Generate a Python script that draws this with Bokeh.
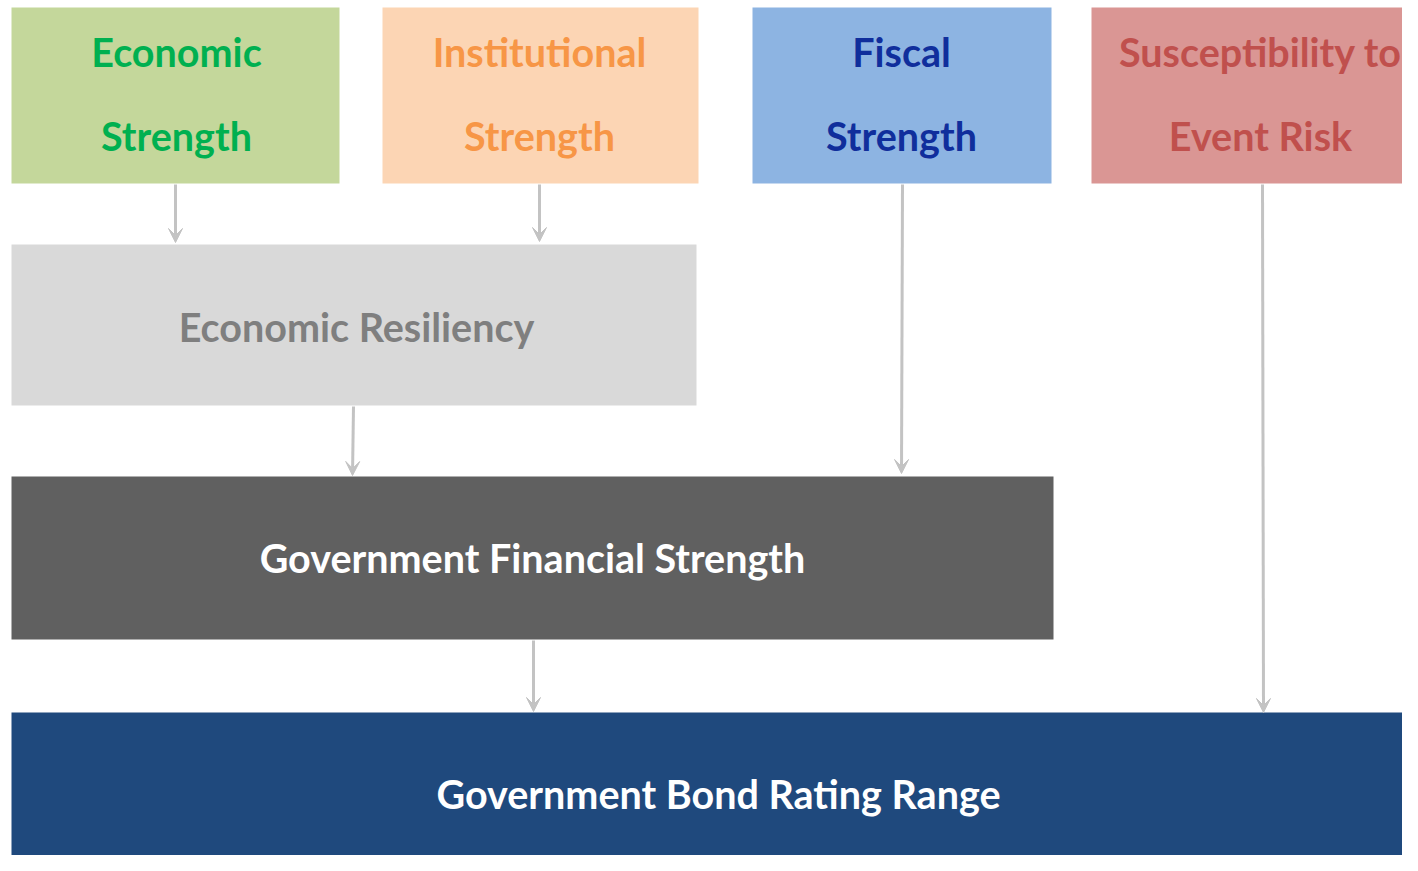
from bokeh.plotting import figure
from bokeh.models import Range1d, Arrow, VeeHead, ColumnDataSource
from bokeh.core.properties import value
from bokeh.embed import file_html
from bokeh.resources import INLINE

# ---- content ----
factor_labels = ["Economic\nStrength", "Institutional\nStrength", "Fiscal\nStrength",
                 "Susceptibility to\nEvent Risk"]
resiliency_label = ["Economic Resiliency"]
gfs_label = ["Government Financial Strength"]
rating_label = ["Government Bond Rating Range"]

# ---- layout (pixels) ----
W, H = 1402, 855

boxes = dict(
    left=[11, 382, 752, 1091, 11, 11, 11],
    right=[339, 698, 1051, 1420, 696, 1053, 1420],
    top=[7, 7, 7, 7, 244, 476, 712],
    bottom=[183, 183, 183, 183, 405, 639, 875],
    fill=["#C4D79B", "#FCD5B4", "#8DB4E2", "#DA9694", "#D9D9D9", "#606060", "#1F497D"],
)

p = figure(width=W, height=H, output_backend="svg", toolbar_location=None,
           x_range=Range1d(0, W), y_range=Range1d(H, 0),
           min_border=0, outline_line_color=None, background_fill_color="white")
p.axis.visible = False
p.grid.visible = False

p.quad(left="left", right="right", top="top", bottom="bottom", fill_color="fill",
       line_color=None, source=ColumnDataSource(boxes))

# arrows
arrow_col = "#C3C3C3"
arrows = [
    (175, 184, 175, 242),
    (539, 184, 539, 241),
    (902, 184, 901, 473),
    (1262, 184, 1263, 712),
    (353, 406, 352, 475),
    (533, 640, 533, 711),
]
for x0, y0, x1, y1 in arrows:
    p.add_layout(Arrow(x_start=x0, y_start=y0, x_end=x1, y_end=y1,
                       line_color=arrow_col, line_width=3,
                       end=VeeHead(size=14, line_color=arrow_col, fill_color=arrow_col,
                                   line_width=1)))

font = value("Lato")
fs = "39.5px"

# top factor texts (two lines each)
top_cx = [176, 539, 901, 1260]
top_colors = ["#00B050", "#F79646", "#102E9C", "#C0504D"]
line1 = [s.split("\n")[0] for s in factor_labels]
line2 = [s.split("\n")[1] for s in factor_labels]
p.text(x=top_cx, y=[51] * 4, text=line1, text_color=top_colors,
       text_font=font, text_font_style="bold", text_font_size=fs,
       text_align="center", text_baseline="middle")
p.text(x=top_cx, y=[135] * 4, text=line2, text_color=top_colors,
       text_font=font, text_font_style="bold", text_font_size=fs,
       text_align="center", text_baseline="middle")

p.text(x=[356], y=[326], text=resiliency_label, text_color="#7F7F7F",
       text_font=font, text_font_style="bold", text_font_size=fs,
       text_align="center", text_baseline="middle")
p.text(x=[532], y=[557], text=gfs_label, text_color="white",
       text_font=font, text_font_style="bold", text_font_size=fs,
       text_align="center", text_baseline="middle")
p.text(x=[718], y=[793], text=rating_label, text_color="white",
       text_font=font, text_font_style="bold", text_font_size=fs,
       text_align="center", text_baseline="middle")

open("out.html", "w").write(file_html(p, INLINE))
